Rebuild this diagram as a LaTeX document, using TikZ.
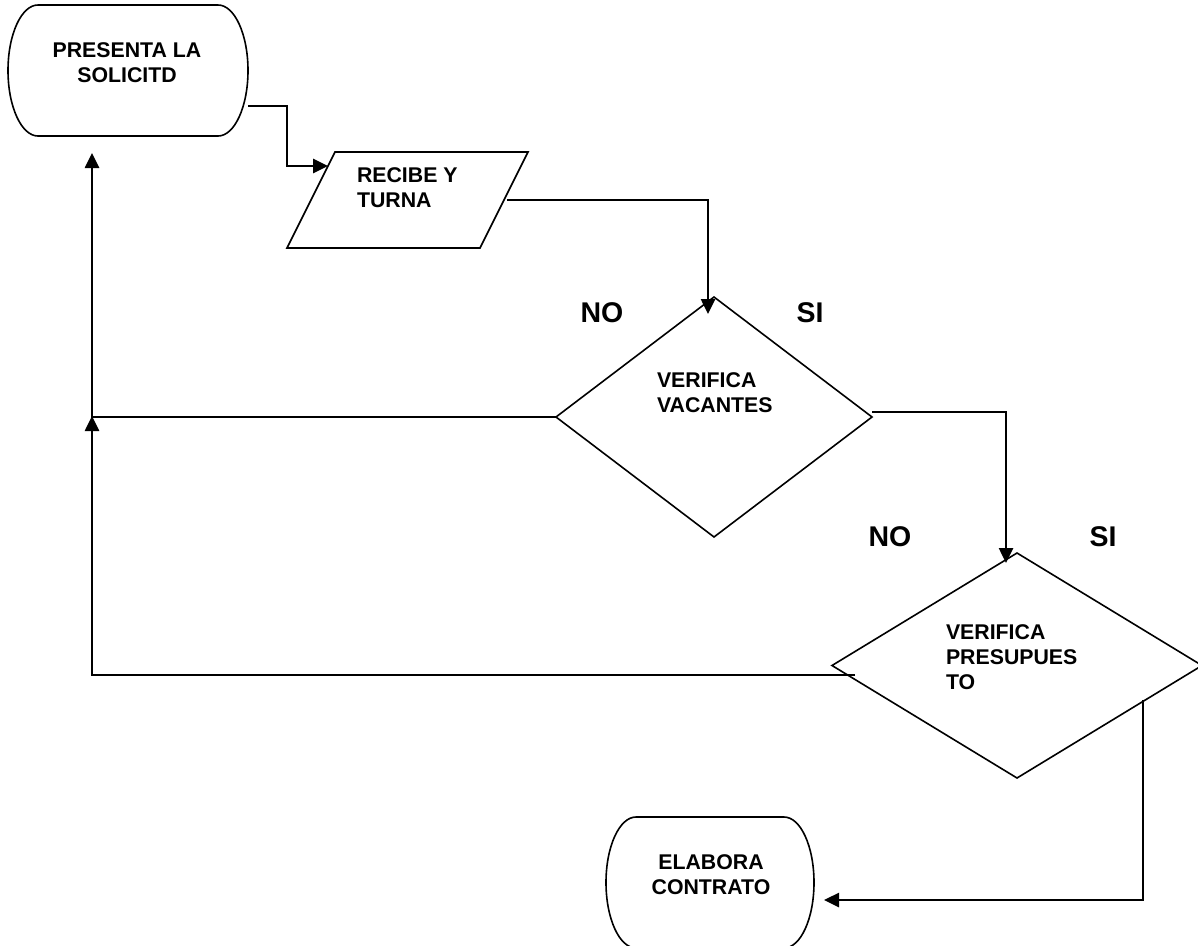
\documentclass[tikz,border=0pt]{standalone}
\usepackage{fontspec}
\setmainfont{Liberation Sans}
\usetikzlibrary{shapes.geometric,arrows.meta,calc}

\begin{document}
\begin{tikzpicture}[x=1pt,y=-1pt,
  shapeline/.style={draw=black, line width=1.6pt},
  conn/.style={draw=black, line width=2.6pt, -{Triangle[length=15pt,width=14pt]}},
  boxtext/.style={font=\bfseries\fontsize{21.3}{25}\selectfont, inner sep=0pt, outer sep=0pt},
  branch/.style={font=\bfseries\fontsize{28.5}{30}\selectfont, inner sep=0pt},
  frame/.style={draw=none, shape=rectangle, inner sep=0pt, outer sep=0pt},
  decision/.style={shape=diamond, shapeline, inner sep=0pt, outer sep=0pt}
]
\useasboundingbox (0,0) rectangle (1198,945);

% outline frames of the blocks
\node[frame, minimum width=240pt, minimum height=131pt] (t1) at (128,70.5) {};
\node[frame, minimum width=208pt, minimum height=131pt] (t2) at (710,882.5) {};
\node[frame, minimum width=241pt, minimum height=96pt] (p) at (407.5,200) {};
\node[decision, minimum width=316pt, minimum height=240pt] (d1) at (714,417) {};
\node[decision, minimum width=370pt, minimum height=225pt] (d2) at (1017,665.5) {};

% terminators with rounded ends
\draw[shapeline] ([xshift=30pt]t1.north west) -- ([xshift=-30pt]t1.north east)
  arc[start angle=-90, end angle=90, x radius=30, y radius=65.5]
  -- ([xshift=30pt]t1.south west)
  arc[start angle=90, end angle=270, x radius=30, y radius=65.5] -- cycle;
\draw[shapeline] ([xshift=30pt]t2.north west) -- ([xshift=-30pt]t2.north east)
  arc[start angle=-90, end angle=90, x radius=30, y radius=65.5]
  -- ([xshift=30pt]t2.south west)
  arc[start angle=90, end angle=270, x radius=30, y radius=65.5] -- cycle;

% input/output parallelogram
\draw[shapeline] ([xshift=48pt]p.north west) -- (p.north east)
  -- ([xshift=-48pt]p.south east) -- (p.south west) -- cycle;

% texts
\node[boxtext, align=center, anchor=north] (t1txt) at (127,43) {PRESENTA LA\\SOLICITD};
\node[boxtext, align=left, anchor=north west] (ptxt) at (357,168) {RECIBE Y\\TURNA};
\node[boxtext, align=left, anchor=north west] (d1txt) at (657,373) {VERIFICA\\VACANTES};
\node[boxtext, align=left, anchor=north west] (d2txt) at (946,625) {VERIFICA\\PRESUPUES\\TO};
\node[boxtext, align=center, anchor=north] (t2txt) at (711,855) {ELABORA\\CONTRATO};

\node[branch] (no1) at (602,313) {NO};
\node[branch] (si1) at (810,313) {SI};
\node[branch] (no2) at (890,537) {NO};
\node[branch] (si2) at (1103,537) {SI};

% connectors
\coordinate (merge) at (92,416);
\draw[conn] ([yshift=-35.5pt]t1.east) -- ++(39,0) |- ([xshift=41pt,yshift=-14pt]p.north west);
\draw[conn] ([xshift=-21pt]p.east) -| ([xshift=-6pt,yshift=-17pt]d1.north);
\draw[conn] (d1.west) -| ([xshift=-36pt,yshift=-17pt]t1.south);
\draw[conn] ([yshift=5pt]d1.east) -| ([xshift=-11pt,yshift=-10pt]d2.north);
\draw[conn] ([xshift=23pt,yshift=-9.5pt]d2.west) -| (merge);
\draw[conn] ([xshift=126pt,yshift=-34pt]d2.center) |- ([xshift=10pt,yshift=-17.5pt]t2.east);
\end{tikzpicture}
\end{document}
